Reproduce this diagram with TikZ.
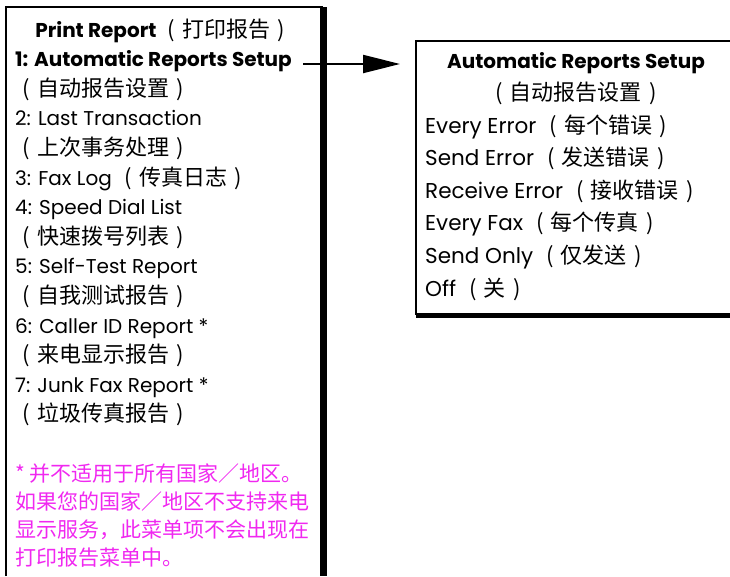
\documentclass[tikz,border=0pt]{standalone}
\usepackage{fontspec}
\setmainfont{Poppins}
\newfontfamily\cjk{Noto Sans CJK SC}
\usetikzlibrary{arrows.meta}
\definecolor{notepink}{RGB}{240,40,240}
\newcommand\zhtext[1]{{\cjk\fontsize{22}{24}\selectfont\mdseries\makebox[1em]{(}#1\makebox[1em]{)}}}

\begin{document}
\begin{tikzpicture}[x=1pt, y=-1pt,
  menu/.style={anchor=base west, inner sep=0pt, font=\fontsize{20}{24}\selectfont},
  option/.style={menu, font=\fontsize{21.5}{24}\selectfont},
  note/.style={anchor=base west, inner sep=0pt, text=notepink, font=\cjk\fontsize{21}{24}\selectfont}]
  \useasboundingbox (0,0) rectangle (730,576);

  % print report menu
  \draw [line width=1.2pt] (6,576) -- (6,7) -- (323,7);
  \draw [line width=7pt] (323,7) -- (323,576);
  \node [menu, anchor=base] (printreport) at (164,37) {\bfseries Print Report \zhtext{打印报告}};
  \node [menu] (setupitem) at (15,66) {\bfseries 1: Automatic Reports Setup};
  \foreach \txt [count=\i from 2] in {{\zhtext{自动报告设置}}, {2: Last Transaction},
      {\zhtext{上次事务处理}}, {3: Fax Log \zhtext{传真日志}}, {4: Speed Dial List},
      {\zhtext{快速拨号列表}}, {5: Self-Test Report}, {\zhtext{自我测试报告}},
      {6: Caller ID Report *}, {\zhtext{来电显示报告}}, {7: Junk Fax Report *},
      {\zhtext{垃圾传真报告}}}
    \node [menu] (report\i) at (15,{37+29.6*\i}) {\txt};

  % footnote
  \foreach \txt [count=\i from 0] in {{* 并不适用于所有国家／地区。}, {如果您的国家／地区不支持来电},
      {显示服务，此菜单项不会出现在}, {打印报告菜单中。}}
    \node [note] (note\i) at (15,{481+28*\i}) {\txt};

  % automatic reports setup menu
  \coordinate (setupframe) at (416,41);
  \draw [line width=1.2pt] (730,41) -- (setupframe) -- (416,315);
  \draw [line width=5pt] (416,315) -- (730,315);
  \node [menu, anchor=base] (setuptitle) at (576,68) {\bfseries Automatic Reports Setup};
  \node [menu, anchor=base] (setupzh) at (576,100.5) {\zhtext{自动报告设置}};
  \foreach \txt [count=\i from 0] in {{Every Error \zhtext{每个错误}}, {Send Error \zhtext{发送错误}},
      {Receive Error \zhtext{接收错误}}, {Every Fax \zhtext{每个传真}},
      {Send Only \zhtext{仅发送}}, {Off \zhtext{关}}}
    \node [option] (option\i) at (425,{133+32.6*\i}) {\txt};

  \draw [line width=2.2pt, -{Triangle[length=37pt, width=18pt]}, shorten <=11pt, shorten >=16pt]
    ([yshift=2pt]setupitem.base east) -- ([yshift=2pt]setupitem.base east -| setupframe);
\end{tikzpicture}
\end{document}
